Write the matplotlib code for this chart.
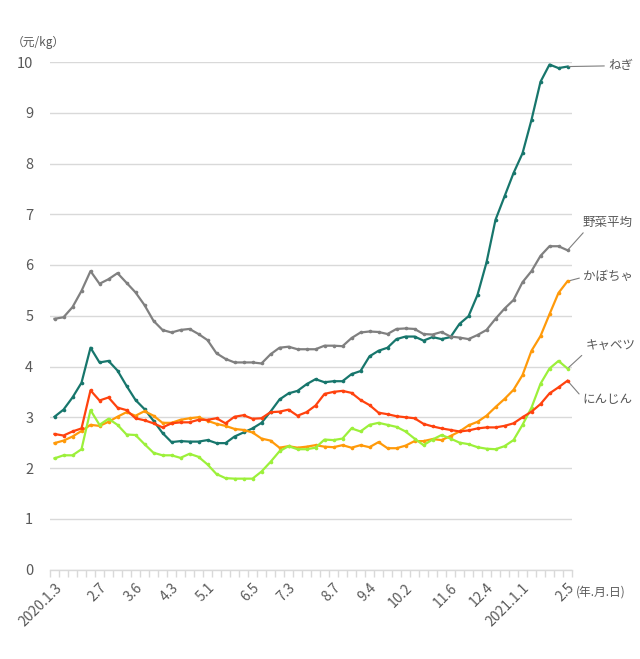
import matplotlib
matplotlib.use("Agg")
import matplotlib.pyplot as plt
from matplotlib.ticker import FixedLocator, NullFormatter

plt.rcParams['font.family'] = ['Noto Sans CJK JP', 'DejaVu Sans']

# weekly data 2020.1.3 - 2021.2.5 (58 weeks)
negi = [3.01, 3.15, 3.39, 3.68, 4.37, 4.08, 4.11, 3.92, 3.62, 3.34,
        3.16, 2.93, 2.69, 2.51, 2.53, 2.52, 2.52, 2.55, 2.49, 2.49,
        2.62, 2.70, 2.78, 2.89, 3.11, 3.35, 3.47, 3.52, 3.65, 3.75,
        3.69, 3.71, 3.71, 3.85, 3.91, 4.20, 4.31, 4.37, 4.54, 4.59,
        4.59, 4.51, 4.58, 4.54, 4.58, 4.84, 4.99, 5.41, 6.05, 6.89,
        7.35, 7.81, 8.20, 8.86, 9.61, 9.95, 9.88, 9.91]
yasai = [4.94, 4.97, 5.17, 5.49, 5.88, 5.63, 5.72, 5.84, 5.65, 5.46,
         5.21, 4.90, 4.72, 4.67, 4.72, 4.74, 4.64, 4.52, 4.26, 4.15,
         4.08, 4.08, 4.08, 4.06, 4.24, 4.37, 4.39, 4.34, 4.34, 4.34,
         4.41, 4.41, 4.40, 4.56, 4.67, 4.69, 4.68, 4.64, 4.74, 4.75,
         4.74, 4.64, 4.63, 4.68, 4.59, 4.57, 4.54, 4.62, 4.72, 4.94,
         5.14, 5.31, 5.66, 5.88, 6.18, 6.37, 6.37, 6.29]
kabocha = [2.49, 2.54, 2.62, 2.73, 2.85, 2.83, 2.91, 3.01, 3.10, 3.03,
           3.12, 3.03, 2.89, 2.89, 2.95, 2.98, 3.00, 2.93, 2.87, 2.83,
           2.77, 2.75, 2.70, 2.58, 2.54, 2.40, 2.43, 2.40, 2.42, 2.45,
           2.42, 2.41, 2.45, 2.40, 2.45, 2.41, 2.51, 2.39, 2.39, 2.44,
           2.53, 2.53, 2.57, 2.55, 2.63, 2.72, 2.84, 2.91, 3.03, 3.20,
           3.36, 3.54, 3.83, 4.31, 4.60, 5.03, 5.45, 5.68]
cabbage = [2.19, 2.25, 2.25, 2.37, 3.14, 2.85, 2.97, 2.85, 2.66, 2.65,
           2.47, 2.30, 2.25, 2.25, 2.20, 2.28, 2.22, 2.07, 1.88, 1.80,
           1.79, 1.79, 1.79, 1.93, 2.12, 2.33, 2.43, 2.37, 2.37, 2.40,
           2.56, 2.55, 2.58, 2.78, 2.72, 2.85, 2.89, 2.85, 2.81, 2.72,
           2.58, 2.45, 2.56, 2.65, 2.58, 2.50, 2.47, 2.41, 2.38, 2.37,
           2.43, 2.55, 2.85, 3.19, 3.66, 3.96, 4.11, 3.96]
carrot = [2.67, 2.64, 2.72, 2.78, 3.53, 3.33, 3.39, 3.19, 3.14, 2.98,
          2.94, 2.88, 2.80, 2.88, 2.90, 2.90, 2.95, 2.95, 2.98, 2.88,
          3.01, 3.04, 2.97, 2.98, 3.10, 3.11, 3.15, 3.03, 3.10, 3.23,
          3.46, 3.50, 3.52, 3.48, 3.34, 3.24, 3.09, 3.06, 3.02, 3.00,
          2.98, 2.87, 2.82, 2.78, 2.75, 2.72, 2.74, 2.78, 2.80, 2.80,
          2.83, 2.88, 3.00, 3.11, 3.26, 3.47, 3.59, 3.72]

series_names = ['ねぎ', '野菜平均', 'かぼちゃ', 'キャベツ', 'にんじん']
series_values = [negi, yasai, kabocha, cabbage, carrot]
series_colors = ['#17766c', '#808080', '#ff9a0a', '#9cf03a', '#ff420e']
label_offsets = [(29.5, 0.5), (11, 20), (11.5, 3.5), (13, 16), (11, -13.5)]
label_relpos = [(0, 0.5), (0.1, 0.1), (0, 0.45), (0.08, 0.35), (0, 0.6)]

tick_idx = [0, 5, 9, 13, 17, 22, 26, 31, 35, 39, 44, 48, 52, 57]
tick_labels = ['2020.1.3', '2.7', '3.6', '4.3', '5.1', '6.5', '7.3', '8.7',
               '9.4', '10.2', '11.6', '12.4', '2021.1.1', '2.5']

txt = '#595959'
fig = plt.figure(figsize=(6.4, 6.59), dpi=100)
ax = fig.add_axes([50/640, 1-569.5/659, 522/640, 507.5/659])

n = len(negi)
x = list(range(n))
order = [1, 3, 2, 4, 0]
for k in order:
    ax.plot(x, series_values[k], color=series_colors[k], lw=1.6,
            marker='o', ms=2.6, mew=0, zorder=3 + k * 0.1, clip_on=False)

for k in range(len(series_names)):
    ax.annotate(series_names[k], xy=(n - 1, series_values[k][-1]),
                xytext=label_offsets[k], textcoords='offset points',
                ha='left', va='center', fontsize=9, color=txt,
                arrowprops=dict(arrowstyle='-', color='#7f7f7f', lw=0.8,
                                shrinkA=1, shrinkB=1, relpos=label_relpos[k]),
                annotation_clip=False)

ax.set_xlim(-0.5, n - 0.5)
ax.set_ylim(0, 10)
ax.set_yticks(range(0, 11))
ax.yaxis.grid(True, color='#d9d9d9', lw=1)
ax.set_axisbelow(True)
for s in ['top', 'right', 'left']:
    ax.spines[s].set_visible(False)
ax.spines['bottom'].set_color('#d9d9d9')
ax.spines['bottom'].set_linewidth(1)

ax.set_xticks(tick_idx)
ax.set_xticklabels(tick_labels, rotation=45, ha='right',
                   rotation_mode='anchor', fontsize=10, color=txt)
ax.xaxis.set_minor_locator(FixedLocator([i - 0.5 for i in range(n + 1)]))
ax.xaxis.set_minor_formatter(NullFormatter())
ax.tick_params(axis='x', which='major', length=0, pad=8)
ax.tick_params(axis='x', which='minor', length=5, color='#d9d9d9', width=1)
ax.tick_params(axis='y', length=0, pad=12, labelsize=10.5, labelcolor=txt)

fig.text(12/640, 1-42/659, '（元/kg）', fontsize=8.5, color=txt,
         ha='left', va='center')
fig.text(576/640, 1-592/659, '(年.月.日)', fontsize=8.5, color=txt,
         ha='left', va='center')

fig.savefig('out.png', dpi=100, facecolor='white')
